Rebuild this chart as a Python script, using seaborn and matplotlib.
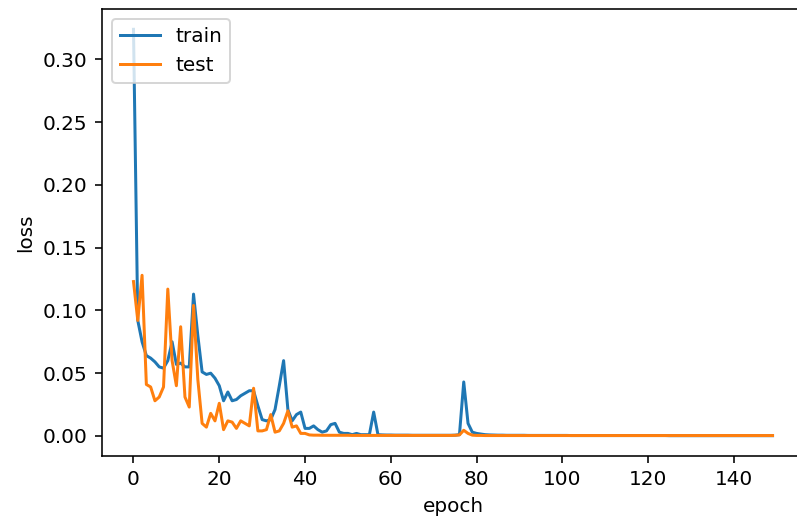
import numpy as np
import pandas as pd
import seaborn as sns
import matplotlib
matplotlib.use("Agg")
import matplotlib.pyplot as plt

# loss per epoch
train_loss = [
    0.324, 0.092, 0.075, 0.064, 0.062, 0.059, 0.055, 0.054, 0.060, 0.075,
    0.057, 0.058, 0.055, 0.055, 0.113, 0.080, 0.051, 0.049, 0.050, 0.046,
    0.040, 0.028, 0.035, 0.028, 0.029, 0.032, 0.034, 0.036, 0.036, 0.024,
    0.013, 0.012, 0.013, 0.021, 0.040, 0.060, 0.021, 0.012, 0.017, 0.019,
    0.006, 0.006, 0.008, 0.005, 0.003, 0.004, 0.009, 0.010, 0.003, 0.002,
    0.002, 0.001, 0.002, 0.001, 0.001, 0.001, 0.019, 0.001, 0.0008, 0.0007,
    0.0007, 0.0006, 0.0006, 0.0006, 0.0006, 0.0005, 0.0005, 0.0005, 0.0005, 0.0005,
    0.0005, 0.0005, 0.0005, 0.0005, 0.0005, 0.0006, 0.0010, 0.043, 0.010, 0.003,
    0.002, 0.0015, 0.0010, 0.0008, 0.0007, 0.0006, 0.0006, 0.0005, 0.0005, 0.0005,
    0.0005, 0.0005, 0.0004, 0.0004, 0.0004, 0.0004, 0.0004, 0.0004, 0.0004, 0.0004,
    0.0004, 0.0004, 0.0003, 0.0003, 0.0003, 0.0003, 0.0003, 0.0003, 0.0003, 0.0003,
    0.0003, 0.0003, 0.0003, 0.0003, 0.0003, 0.0003, 0.0003, 0.0003, 0.0003, 0.0003,
    0.0003, 0.0003, 0.0003, 0.0003, 0.0003, 0.0002, 0.0002, 0.0002, 0.0002, 0.0002,
    0.0002, 0.0002, 0.0002, 0.0002, 0.0002, 0.0002, 0.0002, 0.0002, 0.0002, 0.0002,
    0.0002, 0.0002, 0.0002, 0.0002, 0.0002, 0.0002, 0.0002, 0.0002, 0.0002, 0.0002,
]

test_loss = [
    0.123, 0.092, 0.128, 0.041, 0.039, 0.028, 0.031, 0.039, 0.117, 0.060,
    0.040, 0.087, 0.031, 0.023, 0.104, 0.045, 0.010, 0.007, 0.018, 0.012,
    0.026, 0.005, 0.012, 0.011, 0.006, 0.012, 0.010, 0.008, 0.038, 0.004,
    0.004, 0.005, 0.017, 0.003, 0.004, 0.010, 0.020, 0.007, 0.008, 0.002,
    0.002, 0.0008, 0.0006, 0.0006, 0.0005, 0.0005, 0.0005, 0.0005, 0.0005, 0.0005,
    0.0005, 0.0004, 0.0004, 0.0004, 0.0004, 0.0004, 0.0004, 0.0004, 0.0004, 0.0004,
    0.0004, 0.0004, 0.0004, 0.0004, 0.0004, 0.0004, 0.0004, 0.0004, 0.0004, 0.0004,
    0.0004, 0.0004, 0.0004, 0.0004, 0.0004, 0.0005, 0.0008, 0.0045, 0.0020, 0.0006,
    0.0004, 0.0004, 0.0003, 0.0003, 0.0003, 0.0003, 0.0003, 0.0003, 0.0003, 0.0003,
    0.0003, 0.0003, 0.0003, 0.0003, 0.0003, 0.0003, 0.0003, 0.0003, 0.0003, 0.0003,
    0.0003, 0.0003, 0.0003, 0.0003, 0.0003, 0.0003, 0.0003, 0.0003, 0.0003, 0.0003,
    0.0003, 0.0003, 0.0003, 0.0003, 0.0003, 0.0003, 0.0003, 0.0003, 0.0003, 0.0003,
    0.0003, 0.0003, 0.0003, 0.0003, 0.0003, 0.0003, 0.0003, 0.0003, 0.0003, 0.0003,
    0.0003, 0.0003, 0.0003, 0.0003, 0.0003, 0.0003, 0.0003, 0.0003, 0.0003, 0.0003,
    0.0003, 0.0003, 0.0003, 0.0003, 0.0003, 0.0003, 0.0003, 0.0003, 0.0003, 0.0003,
]

epochs = list(range(len(train_loss)))

df = pd.DataFrame({"epoch": epochs, "train": train_loss, "test": test_loss})

dpi = 144
fig = plt.figure(figsize=(797 / dpi, 526 / dpi), dpi=dpi)
ax = fig.add_axes([0.1274, 0.1331, 0.882, 0.8498])

sns.lineplot(data=df, x="epoch", y="train", ax=ax, color="#1f77b4", label="train")
sns.lineplot(data=df, x="epoch", y="test", ax=ax, color="#ff7f0e", label="test")

ax.set_xlabel("epoch")
ax.set_ylabel("loss")
ax.legend(loc="upper left")

fig.savefig("out.png", dpi=dpi)
plt.close()
